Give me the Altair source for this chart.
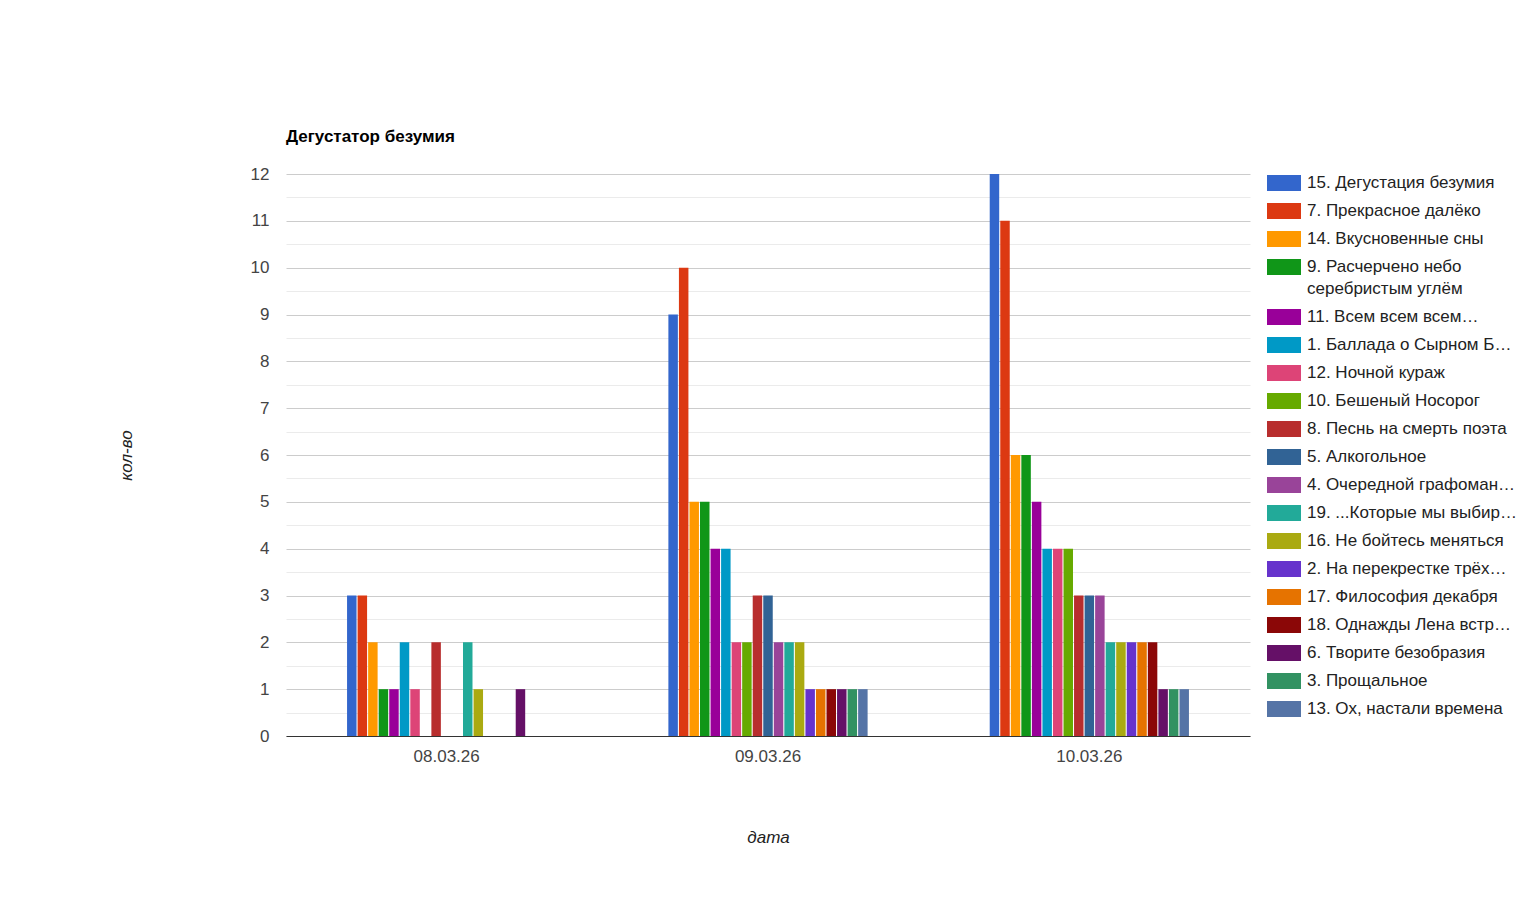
import altair as alt
import pandas as pd

dates = ["08.03.26", "09.03.26", "10.03.26"]

songs = [
    "15. Дегустация безумия",
    "7. Прекрасное далёко",
    "14. Вкусновенные сны",
    "9. Расчерчено небо серебристым углём",
    "11. Всем всем всем…",
    "1. Баллада о Сырном Б…",
    "12. Ночной кураж",
    "10. Бешеный Носорог",
    "8. Песнь на смерть поэта",
    "5. Алкогольное",
    "4. Очередной графоман…",
    "19. ...Которые мы выбир…",
    "16. Не бойтесь меняться",
    "2. На перекрестке трёх…",
    "17. Философия декабря",
    "18. Однажды Лена встр…",
    "6. Творите безобразия",
    "3. Прощальное",
    "13. Ох, настали времена",
]

colors = [
    "#3366cc", "#dc3912", "#ff9900", "#109618", "#990099", "#0099c6",
    "#dd4477", "#66aa00", "#b82e2e", "#316395", "#994499", "#22aa99",
    "#aaaa11", "#6633cc", "#e67300", "#8b0707", "#651067", "#329262",
    "#5574a6",
]

# counts per song for 08.03.26, 09.03.26, 10.03.26
counts = [
    [3, 9, 12],
    [3, 10, 11],
    [2, 5, 6],
    [1, 5, 6],
    [1, 4, 5],
    [2, 4, 4],
    [1, 2, 4],
    [0, 2, 4],
    [2, 3, 3],
    [0, 3, 3],
    [0, 2, 3],
    [2, 2, 2],
    [1, 2, 2],
    [0, 1, 2],
    [0, 1, 2],
    [0, 1, 2],
    [1, 1, 1],
    [0, 1, 1],
    [0, 1, 1],
]

y_ticks = [0, 0.5, 1, 1.5, 2, 2.5, 3, 3.5, 4, 4.5, 5, 5.5, 6, 6.5, 7, 7.5,
           8, 8.5, 9, 9.5, 10, 10.5, 11, 11.5, 12]

rows = []
for song, vals in zip(songs, counts):
    for d, v in zip(dates, vals):
        rows.append({"date": d, "song": song, "count": v})
df = pd.DataFrame(rows)

FONT = "Liberation Sans"
FS = 17
long_label = "9. Расчерчено небо серебристым углём"

chart = alt.Chart(df).mark_bar().encode(
    x=alt.X(
        "date:N",
        sort=dates,
        scale=alt.Scale(paddingInner=0.38, paddingOuter=0.19),
        axis=alt.Axis(
            title="дата",
            titleFontStyle="italic",
            titleFontWeight="normal",
            titleFont=FONT,
            titleFontSize=FS,
            titleColor="#222222",
            titlePadding=65,
            labelAngle=0,
            labelFont=FONT,
            labelFontSize=FS,
            labelColor="#444444",
            labelPadding=12,
            ticks=False,
            domainColor="#333333",
            domainWidth=1,
            grid=False,
        ),
    ),
    xOffset=alt.XOffset(
        "song:N",
        sort=songs,
        scale=alt.Scale(paddingInner=0.1, paddingOuter=0),
    ),
    y=alt.Y(
        "count:Q",
        scale=alt.Scale(domain=[0, 12], nice=False),
        axis=alt.Axis(
            title="кол-во",
            titleFontStyle="italic",
            titleFontWeight="normal",
            titleFont=FONT,
            titleFontSize=FS,
            titleColor="#222222",
            titlePadding=115,
            values=y_ticks,
            labelExpr="datum.value % 1 === 0 ? format(datum.value, 'd') : ''",
            labelFont=FONT,
            labelFontSize=FS,
            labelColor="#444444",
            labelPadding=17,
            ticks=False,
            domain=False,
            gridColor={
                "condition": {"test": "datum.value % 1 === 0", "value": "#cccccc"},
                "value": "#ebebeb",
            },
            gridWidth=1,
        ),
    ),
    color=alt.Color(
        "song:N",
        sort=songs,
        scale=alt.Scale(domain=songs, range=colors),
        legend=alt.Legend(
            title=None,
            orient="none",
            legendX=981,
            legendY=-8,
            symbolType="M-1,-0.47L1,-0.47L1,0.47L-1,0.47Z",
            symbolSize=1156,
            symbolStrokeWidth=0,
            symbolOpacity=1,
            labelFont=FONT,
            labelFontSize=FS,
            labelColor="#222222",
            labelOffset=6,
            labelLimit=0,
            rowPadding=3,
            padding=0,
            labelExpr=(
                f"datum.label == '{long_label}' ? "
                "['9. Расчерчено небо', 'серебристым углём'] : datum.label"
            ),
        ),
    ),
).properties(
    width=964,
    height=562,
    title=alt.TitleParams(
        "Дегустатор безумия",
        anchor="start",
        frame="group",
        font=FONT,
        fontSize=FS,
        fontWeight="bold",
        color="#000000",
        offset=19,
    ),
    autosize=alt.AutoSizeParams(type="none"),
    padding={"left": 278, "top": 166, "right": 270, "bottom": 130},
).configure(
    background="#ffffff",
    style={"guide-label": {"lineHeight": 22}},
).configure_view(stroke=None)

chart.save("out.html", embed_options={"renderer": "svg", "actions": False})
